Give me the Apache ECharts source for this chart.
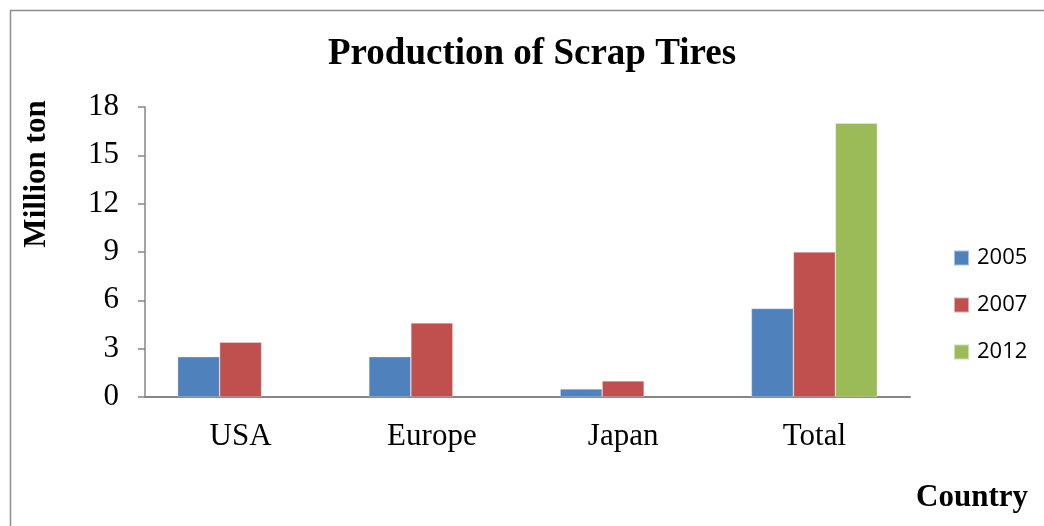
<!DOCTYPE html>
<html>
<head>
<meta charset="utf-8">
<script src="https://cdn.jsdelivr.net/npm/echarts@6/dist/echarts.min.js"></script>
<style>html,body{margin:0;padding:0;background:#fff;}#c{width:1044px;height:526px;}</style>
</head>
<body>
<div id="c"></div>
<script>
var categories = ['USA', 'Europe', 'Japan', 'Total'];
var years = ['2005', '2007', '2012'];
var v2005 = [2.5, 2.5, 0.5, 5.5];
var v2007 = [3.4, 4.6, 1.0, 9.0];
var v2012 = [null, null, null, 17.0];
var colors = ['#4F81BD', '#C0504D', '#9BBB59'];

var chart = echarts.init(document.getElementById('c'), null, {renderer: 'canvas'});
var serif = '"Liberation Serif", "Times New Roman", serif';
function bar(name, data, color) {
  return {
    name: name, type: 'bar', data: data, barWidth: 42, barGap: '0%',
    itemStyle: {color: color, borderColor: 'rgba(255,255,255,0.5)', borderWidth: 0.6},
    animation: false
  };
}
chart.setOption({
  animation: false,
  backgroundColor: '#fff',
  title: {
    text: 'Production of Scrap Tires', left: 532, top: 36, textAlign: 'center', padding: 0,
    textStyle: {fontFamily: serif, fontWeight: 'bold', fontSize: 37, color: '#000'}
  },
  legend: {
    orient: 'vertical', left: 953, top: 247, itemWidth: 15, itemHeight: 15, itemGap: 25,
    padding: 0, icon: 'rect',
    textStyle: {fontFamily: '"Open Sans", "Liberation Sans", sans-serif', fontSize: 22, color: '#000', padding: [0,0,0,3]},
    data: years
  },
  grid: {left: 145, right: 134, top: 107, bottom: 129, containLabel: false},
  xAxis: {
    type: 'category', data: categories,
    axisLine: {lineStyle: {color: '#868686', width: 2}},
    axisTick: {show: false},
    axisLabel: {fontFamily: serif, fontSize: 31, color: '#000', margin: 24}
  },
  yAxis: {
    type: 'value', min: 0, max: 18, interval: 3,
    axisLine: {show: true, lineStyle: {color: '#868686', width: 1.5}},
    axisTick: {show: true, length: 7, lineStyle: {color: '#868686', width: 1.5}},
    splitLine: {show: false},
    axisLabel: {fontFamily: serif, fontSize: 31, color: '#000', margin: 26}
  },
  graphic: [
    {type: 'rect', left: 8, top: 8, shape: {width: 1100, height: 600}, style: {fill: 'none', stroke: '#8c8c8c', lineWidth: 1.5}, silent: true},
    {type: 'text', x: 37, y: 174, rotation: Math.PI / 2, style: {text: 'Million ton', font: 'bold 31px ' + serif, fill: '#000', align: 'center', verticalAlign: 'middle'}},
    {type: 'text', x: 972, y: 498, style: {text: 'Country', font: 'bold 31px ' + serif, fill: '#000', align: 'center', verticalAlign: 'middle'}}
  ],
  series: [bar(years[0], v2005, colors[0]), bar(years[1], v2007, colors[1]), bar(years[2], v2012, colors[2])]
});
</script>
</body>
</html>
